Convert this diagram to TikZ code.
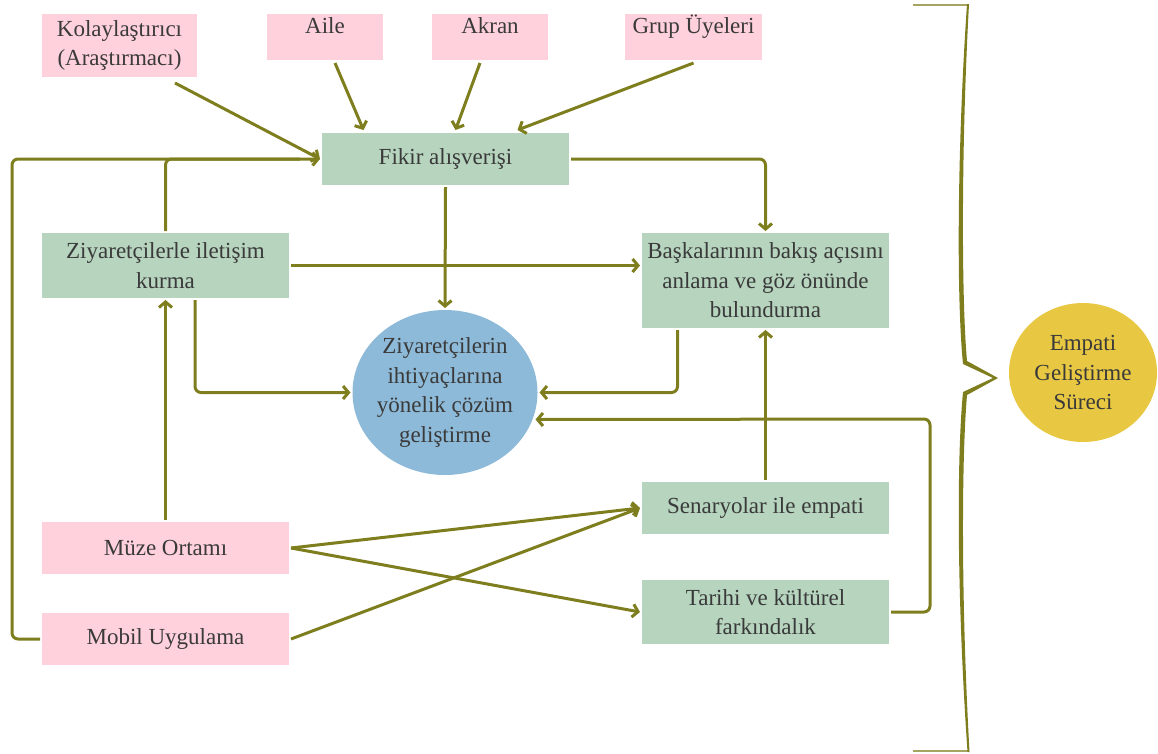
\documentclass[tikz,border=0pt]{standalone}
\usepackage{fontspec}
\setmainfont{Liberation Serif}
\usetikzlibrary{arrows.meta,shapes.geometric,calc}

\definecolor{inkgray}{RGB}{58,58,58}
\definecolor{boxpink}{RGB}{255,209,220}
\definecolor{boxgreen}{RGB}{182,212,190}
\definecolor{ballblue}{RGB}{141,186,216}
\definecolor{ballyellow}{RGB}{232,200,66}
\definecolor{lineolive}{RGB}{126,126,30}

\tikzset{
  txt/.style={text=inkgray, font=\fontsize{23}{29.5}\selectfont},
  box/.style={txt, rectangle, inner sep=0pt, outer sep=2pt, align=center},
  pinkbox/.style={box, fill=boxpink},
  greenbox/.style={box, fill=boxgreen},
  topbox/.style={pinkbox, text height=19pt, text depth=27pt, minimum height=46pt},
  conn/.style={draw=lineolive, line width=3pt, rounded corners=6pt},
  arr/.style={conn, -{Straight Barb[length=5.5pt,width=13pt]}},
}

\begin{document}
\begin{tikzpicture}[x=1pt,y=-1pt]
\useasboundingbox (0,0) rectangle (1158,753);

% sources at the top
\node[pinkbox, minimum width=155pt, minimum height=63pt] (kol) at (119.5,45.5) {Kolaylaştırıcı\\(Araştırmacı)};
\node[topbox, minimum width=116pt] (aile) at (325,37) {Aile};
\node[topbox, minimum width=116pt] (akran) at (490,37) {Akran};
\node[topbox, minimum width=137pt] (grup) at (693.5,37) {Grup Üyeleri};

% process boxes
\node[greenbox, minimum width=247pt, minimum height=52pt] (fikir) at (445.5,159) {Fikir alışverişi};
\node[greenbox, minimum width=247pt, minimum height=65pt] (ziy) at (165.5,265.5) {Ziyaretçilerle iletişim\\kurma};
\node[greenbox, minimum width=247pt, minimum height=95pt] (bask) at (765.5,280.5) {Başkalarının bakış açısını\\anlama ve göz önünde\\bulundurma};
\node[greenbox, minimum width=247pt, minimum height=52pt] (sen) at (765.5,508) {Senaryolar ile empati};
\node[greenbox, minimum width=247pt, minimum height=64pt] (tar) at (765.5,612) {Tarihi ve kültürel\\farkındalık};

% environment boxes
\node[pinkbox, minimum width=247pt, minimum height=52pt] (muze) at (165.5,548) {Müze Ortamı};
\node[pinkbox, minimum width=247pt, minimum height=52pt] (mobil) at (165.5,639) {Mobil Uygulama};

% central outcome
\node[txt, ellipse, fill=ballblue, align=center, inner xsep=-8pt, inner ysep=0pt, outer sep=2pt,
      minimum width=185pt, minimum height=165pt] (elp) at (445,392.5)
  {Ziyaretçilerin\\ihtiyaçlarına\\yönelik çözüm\\geliştirme};

% overall label
\node[txt, ellipse, fill=ballyellow, align=center, inner sep=0pt,
      minimum width=148pt, minimum height=139pt] (emp) at (1083,372.5)
  {Empati\\Geliştirme\\Süreci};

% inputs to the exchange of ideas
\draw[arr] ([xshift=-24pt,yshift=-4pt]kol.south east) -- (fikir.west);
\draw[arr] ([xshift=10pt,yshift=-1pt]aile.south) -- ([xshift=-82pt,yshift=1pt]fikir.north);
\draw[arr] ([xshift=-10pt,yshift=-1pt]akran.south) -- ([xshift=10pt,yshift=1pt]fikir.north);
\draw[arr] ([yshift=-1pt]grup.south) -- ([xshift=72pt,yshift=1pt]fikir.north);

% left feedback lines
\coordinate (lft) at (12,159);
\draw[arr] (mobil.west) -| (lft) -- (fikir.west);
\draw[conn] (ziy.north) |- ([xshift=-20pt]fikir.west);

% links between process boxes
\draw[arr] (fikir.east) -| (bask.north);
\draw[arr] (fikir.south) -- (elp.north);
\draw[arr] (ziy.east) -- (ziy.east -| bask.west);
\draw[arr] ([xshift=29.5pt]ziy.south) |- (elp.west);
\draw[arr] ([xshift=-88pt]bask.south) |- (elp.east);
\coordinate (rgt) at (930,419);
\draw[arr] (tar.east) -| (rgt) -- ([xshift=-4pt,yshift=-27pt]elp.east);
\draw[arr] (sen.north) -- (bask.south);
\draw[arr] (muze.north) -- (ziy.south);

% environment to empathy activities
\draw[arr] (muze.east) -- (sen.west);
\draw[arr] (muze.east) -- (tar.west);
\draw[arr] (mobil.east) -- (sen.west);

% curly brace grouping the process
\draw[line width=1.4pt, draw=lineolive!70] (913,5) -- (968,5);
\draw[line width=1.4pt, draw=lineolive!70] (913,751) -- (968,751);
\fill[lineolive]
  (969,4) .. controls (961,150) and (961.5,300) .. (967,361)
  -- (998,378) -- (967,395)
  .. controls (961.5,460) and (961,600) .. (969.5,752)
  -- (967.5,752)
  .. controls (957,600) and (956.5,460) .. (963,392)
  -- (993,378) -- (963,364)
  .. controls (956.5,300) and (957,150) .. (967,4) -- cycle;
\end{tikzpicture}
\end{document}
